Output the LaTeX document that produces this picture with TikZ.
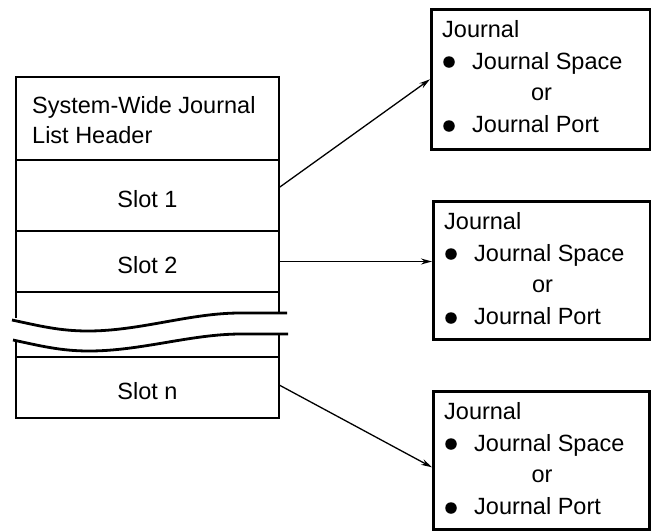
\documentclass[tikz,border=0pt]{standalone}
\usepackage{fontspec}
\setmainfont{Liberation Sans}
\usetikzlibrary{arrows.meta}
\begin{document}
\begin{tikzpicture}[x=1pt,y=-1pt,
  txt/.style={font=\fontsize{23.5}{27}\selectfont, inner sep=0pt},
  frame/.style={line width=2.8pt},
  rule/.style={line width=1.2pt},
  cell/.style={minimum width=263pt, inner sep=0pt},
  jbox/.style={draw, line width=2.6pt, inner sep=0pt},
  dot/.style={circle, fill, inner sep=0pt, minimum size=11.5pt},
  link/.style={line width=1.3pt, -{Stealth[length=11pt,width=6pt]}}]
\useasboundingbox (0,0) rectangle (651,531);

% --- journal list: cells used as anchors
\node[cell, minimum height=83pt] (header) at (147.5,118.5) {};
\node[cell, minimum height=71pt] (slot1) at (147.5,195.5) {};
\node[cell, minimum height=61pt] (slot2) at (147.5,261.5) {};
\node[cell, minimum height=61pt] (slotn) at (147.5,387.5) {};

% outer frame, upper and lower part
\draw[frame] (16,318) -- (16,77) -- (279,77) -- (279,313);
\draw[frame] (16,340) -- (16,418) -- (279,418) -- (279,334);
% break lines
\draw[frame] (12,320) .. controls (40,326) and (60,331) .. (88,331)
  .. controls (140,331) and (190,313) .. (240,313) -- (287,313);
\draw[frame] (13,340) .. controls (41,346) and (61,351) .. (89,351)
  .. controls (141,351) and (191,334) .. (241,334) -- (288,334);
% cell rules
\draw[rule] (16,160) -- (279,160);
\draw[rule] (16,231) -- (279,231);
\draw[rule] (16,292) -- (279,292);
\draw[rule] (16,357) -- (279,357);

% cell texts
\node[txt, anchor=base west] (h1) at (32,113) {System-Wide Journal};
\node[txt, anchor=base west] (h2) at (32,143) {List Header};
\node[txt, anchor=base] (s1) at (147.5,207) {Slot 1};
\node[txt, anchor=base] (s2) at (147.5,273) {Slot 2};
\node[txt, anchor=base] (sn) at (147.5,399) {Slot n};

% --- journal boxes
\foreach \n/\L/\T/\W/\H in {1/430/8/219/140, 2/432/200/217/138, 3/432/390/216/138} {
  \node[jbox, minimum width=\W pt, minimum height=\H pt, anchor=north west] (box\n) at (\L,\T) {};
  \node[txt, anchor=base west] (jn\n) at (\L+12,\T+29) {Journal};
  \node[dot] (da\n) at (\L+19,\T+54) {};
  \node[txt, anchor=base west] (js\n) at (\L+42,\T+61) {Journal Space};
  \node[txt, anchor=base] (or\n) at (\L+\W/2+2,\T+92) {or};
  \node[dot] (db\n) at (\L+19,\T+118) {};
  \node[txt, anchor=base west] (jp\n) at (\L+42,\T+124) {Journal Port};
}

% --- pointers
\draw[link] ([yshift=8pt]slot1.east) -- (box1.west);
\draw[link] (slot2.east) -- (slot2.east -| box2.west);
\draw[link] ([yshift=2.5pt]slotn.east) -- ([yshift=-7pt]box3.west);
\end{tikzpicture}
\end{document}
